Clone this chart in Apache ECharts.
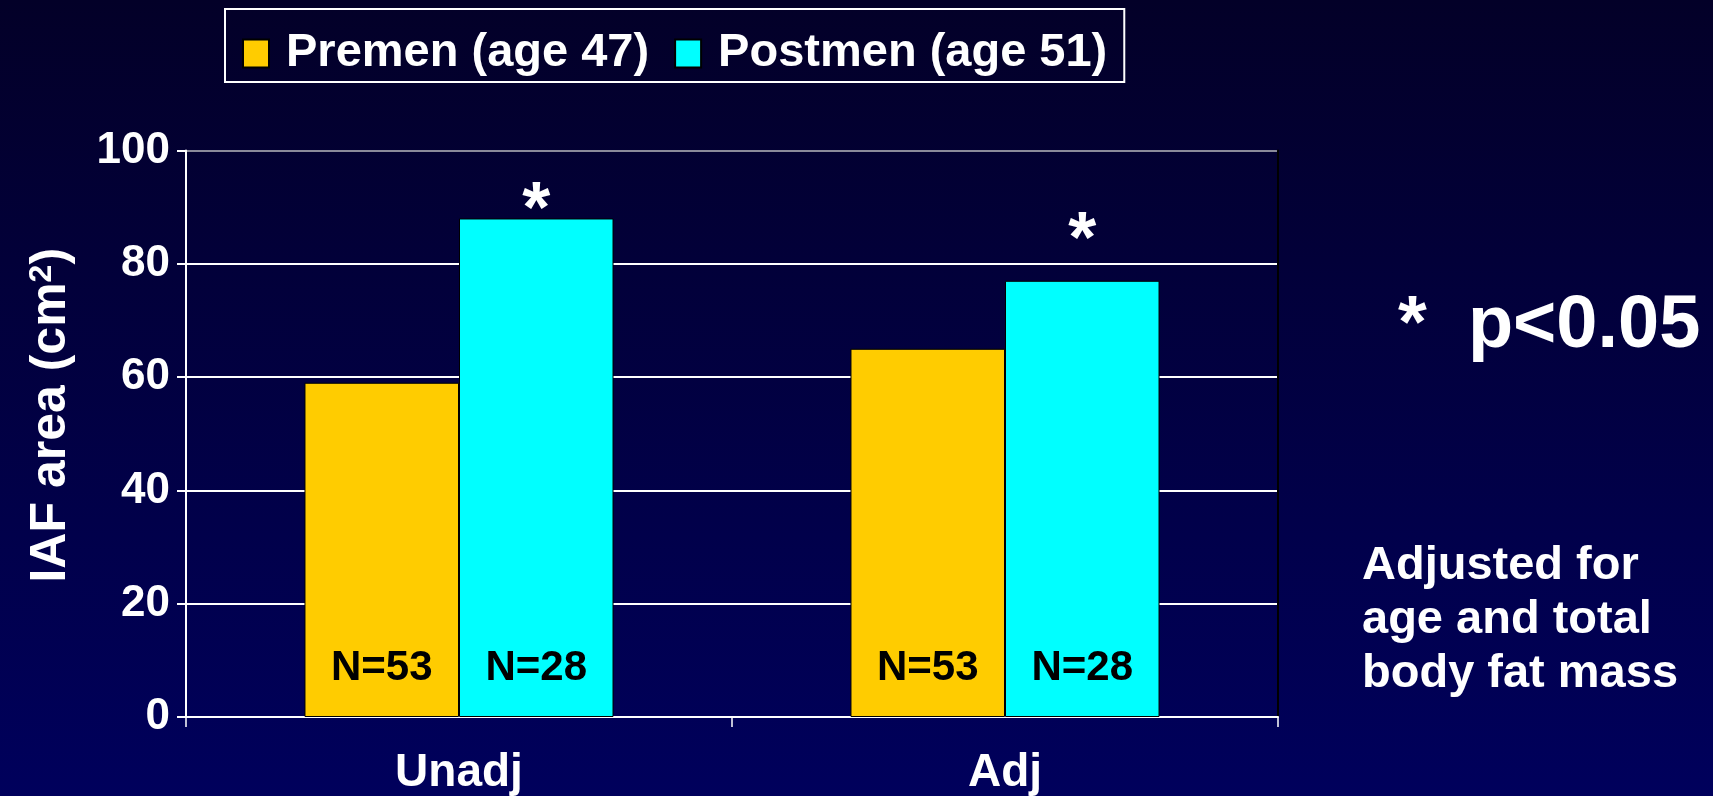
<!DOCTYPE html>
<html><head><meta charset="utf-8">
<script src="https://cdn.jsdelivr.net/npm/echarts@6/dist/echarts.min.js"></script>
<style>html,body{margin:0;padding:0;background:#000030;overflow:hidden}#c{width:1713px;height:796px}</style>
</head><body><div id="c"></div>
<script>
// ---- data ----
const categories = ['Unadj', 'Adj'];
const seriesNames = ['Premen (age 47)', 'Postmen (age 51)'];
const premenValues = [59, 65];
const postmenValues = [88, 77];
const premenN = ['N=53', 'N=53'];
const postmenN = ['N=28', 'N=28'];
const postmenStarLevels = [91.8, 86.4];   // where the "*" marks sit (axis units)
const yTickMin = 0, yTickMax = 100, yTickStep = 20;
const yAxisTitleMain = 'IAF area (cm';
const yAxisTitleSup = '2';
const yAxisTitleEnd = ')';
const noteSig = '*  p<0.05';
const noteAdj = ['Adjusted for', 'age and total', 'body fat mass'];

// ---- chart ----
const FONT = '"Liberation Sans", Arial, sans-serif';
const chart = echarts.init(document.getElementById('c'), null, {renderer: 'canvas'});

const nLabel = (arr) => ({
  show: true, position: 'insideBottom', distance: 28,
  formatter: (p) => arr[p.dataIndex],
  color: '#000', fontFamily: FONT, fontWeight: 'bold', fontSize: 42
});

const option = {
  backgroundColor: {
    type: 'linear', x: 0, y: 0, x2: 0, y2: 1,
    colorStops: [{offset: 0, color: '#030028'}, {offset: 1, color: '#00005c'}]
  },
  textStyle: {fontFamily: FONT},
  animation: false,
  legend: {
    left: 225, top: 9,
    padding: [20, 17, 4, 17],
    borderColor: '#ffffff', borderWidth: 2,
    itemWidth: 26, itemHeight: 28, itemGap: 25,
    icon: 'rect',
    textStyle: {color: '#fff', fontSize: 47, fontWeight: 'bold', fontFamily: FONT, lineHeight: 49, padding: [0, 0, 0, 12]},
    data: seriesNames
  },
  grid: {left: 186, right: 435, top: 150.5, bottom: 76.5, containLabel: false},
  xAxis: {
    type: 'category', data: categories,
    axisLine: {show: true, lineStyle: {color: '#ffffff', width: 2}},
    axisTick: {show: true, length: 10, lineStyle: {color: '#ffffff', width: 1.5}},
    axisLabel: {color: '#fff', fontSize: 46, fontWeight: 'bold', fontFamily: FONT, margin: 33},
    splitLine: {show: false}
  },
  yAxis: [{
    type: 'value', min: yTickMin, max: yTickMax, interval: yTickStep,
    name: yAxisTitleMain + '{sup|' + yAxisTitleSup + '}' + yAxisTitleEnd,
    nameLocation: 'middle', nameGap: 110,
    nameTextStyle: {
      color: '#fff', fontSize: 50, fontWeight: 'bold', fontFamily: FONT,
      padding: [0, 0, 0, 37],
      rich: {sup: {color: '#fff', fontSize: 32, fontWeight: 'bold', fontFamily: FONT, verticalAlign: 'top', padding: [0, 0, 14, 0]}}
    },
    axisLine: {show: true, lineStyle: {color: '#ffffff', width: 2}},
    axisTick: {show: true, length: 9, lineStyle: {color: '#ffffff', width: 2}},
    axisLabel: {color: '#fff', fontSize: 44, fontWeight: 'bold', fontFamily: FONT, margin: 16},
    splitLine: {show: true, lineStyle: {color: ['#ffffff', '#ffffff', '#ffffff', '#ffffff', '#ffffff', '#8a8a9a'], width: 2}}
  }, {
    type: 'value', min: yTickMin, max: yTickMax, interval: yTickStep, position: 'right',
    axisLine: {show: true, lineStyle: {color: '#000000', width: 2}},
    axisTick: {show: false}, axisLabel: {show: false}, splitLine: {show: false}
  }],
  series: [{
    name: seriesNames[0], type: 'bar', data: premenValues,
    barGap: '0%', barCategoryGap: '43.4%',
    itemStyle: {color: '#ffcc00', borderColor: '#000', borderWidth: 1},
    label: nLabel(premenN)
  }, {
    name: seriesNames[1], type: 'bar', data: postmenValues,
    barGap: '0%', barCategoryGap: '43.4%',
    itemStyle: {color: '#00ffff', borderColor: '#000', borderWidth: 1},
    label: nLabel(postmenN),
    markPoint: {
      symbol: 'circle', symbolSize: 1,
      itemStyle: {color: 'rgba(0,0,0,0)'},
      label: {show: true, position: 'inside', formatter: '*', color: '#fff', fontSize: 72, fontWeight: 'bold', fontFamily: FONT, offset: [0, 15]},
      data: postmenStarLevels.map((v, i) => ({coord: [i, v]}))
    }
  }],
  graphic: [{
    type: 'text', x: 1398, y: 327,
    style: {text: noteSig, fill: '#fff', font: 'bold 74px ' + FONT, verticalAlign: 'middle'}
  }, {
    type: 'text', x: 1362, y: 539,
    style: {text: noteAdj.join('\n'), fill: '#fff', font: 'bold 47px ' + FONT, lineHeight: 54, verticalAlign: 'top'}
  }]
};
chart.setOption(option);
</script>
</body></html>
